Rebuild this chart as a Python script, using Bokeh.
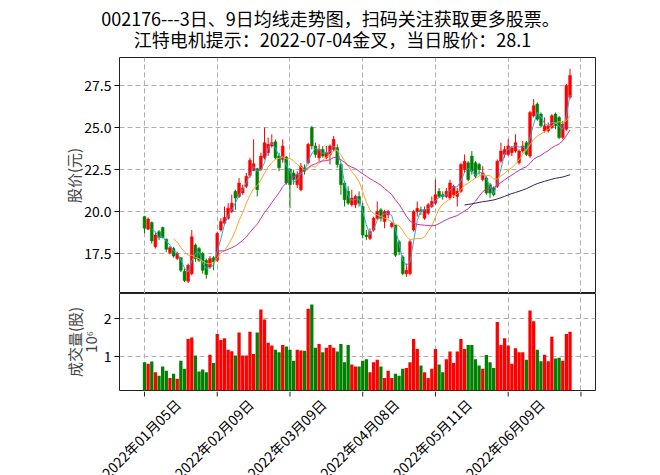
import numpy as np
import pandas as pd
from bokeh.plotting import figure
from bokeh.models import (ColumnDataSource, Range1d, FixedTicker, Title,
                          PrintfTickFormatter, CustomJSTickFormatter)
from bokeh.core.properties import value
from bokeh.layouts import column, row
from bokeh.embed import file_html
from bokeh.resources import INLINE

FONT = "Noto Sans CJK SC"

title_line1 = "002176---3日、9日均线走势图，扫码关注获取更多股票。"
title_line2 = "江特电机提示：2022-07-04金叉，当日股价：28.1"
price_label = "股价(元)"
volume_label = "成交量(股)"
volume_scale = "10⁶"

tick_pos = [0, 20, 40, 60, 80, 100, 120]
tick_labels = ["2022年01月05日", "2022年02月09日", "2022年03月09日",
               "2022年04月08日", "2022年05月11日", "2022年06月09日"]

opens = [19.7, 18.95, 19.35, 17.9, 18.8, 19.05, 18.35, 17.55, 17.8, 17.2,
         17.25, 16.45, 15.85, 16.3, 18.0, 17.8, 17.5, 17.1, 16.7, 17.25,
         17.1, 18.9, 19.3, 19.6, 20.0, 21.2, 20.9, 21.1, 21.5, 22.15,
         22.45, 22.55, 22.5, 23.2, 23.5, 23.9, 24.15, 23.3, 23.1, 23.25,
         22.5, 22.3, 21.6, 21.3, 22.6, 22.9, 25.0, 23.9, 23.2, 23.7,
         23.2, 23.4, 23.7, 23.8, 22.8, 21.7, 21.2, 20.4, 20.4, 20.9,
         20.3, 18.6, 18.4, 18.9, 19.6, 20.1, 19.4, 19.8, 19.1, 19.2,
         18.2, 17.3, 16.3, 16.3, 18.9, 20.0, 20.1, 19.6, 19.9, 20.3,
         20.5, 21.2, 21.0, 20.9, 20.8, 21.0, 20.9, 21.2, 22.5, 22.9,
         23.3, 22.9, 22.8, 21.9, 22.0, 21.6, 21.4, 21.5, 23.0, 23.4,
         23.4, 23.5, 23.6, 22.9, 23.6, 24.1, 23.3, 25.7, 26.4, 25.8,
         24.8, 24.8, 25.0, 25.8, 25.6, 24.4, 24.9, 26.8]
closes = [19.0, 19.55, 18.25, 18.6, 18.45, 18.45, 17.75, 17.85, 17.35, 17.5,
          16.5, 15.9, 16.8, 18.5, 17.2, 17.1, 16.5, 16.25, 17.2, 17.0,
          18.7, 19.4, 19.65, 20.2, 20.5, 20.8, 21.7, 21.4, 22.1, 23.05,
          22.85, 21.3, 23.3, 24.1, 24.0, 24.1, 23.2, 22.6, 23.9, 21.7,
          21.6, 21.9, 22.2, 22.7, 22.4, 24.0, 23.9, 23.4, 23.7, 23.3,
          23.5, 23.9, 24.3, 22.8, 21.6, 20.7, 20.5, 20.8, 20.9, 20.5,
          18.6, 18.5, 18.8, 19.6, 20.0, 19.6, 20.0, 20.0, 19.3, 17.4,
          17.6, 16.3, 16.5, 18.2, 20.0, 20.2, 20.0, 20.1, 20.4, 20.6,
          21.0, 20.9, 20.9, 21.2, 21.7, 21.5, 21.2, 22.8, 23.0, 21.9,
          22.4, 22.1, 22.5, 22.3, 21.1, 21.1, 21.0, 23.0, 23.6, 23.7,
          23.9, 23.8, 24.1, 23.6, 23.9, 23.4, 25.9, 26.3, 25.5, 25.1,
          25.1, 25.1, 25.7, 25.1, 24.4, 25.2, 27.5, 28.1]
highs = [19.75, 19.65, 19.4, 18.75, 18.9, 19.1, 18.4, 17.95, 17.9, 17.6,
         17.3, 16.6, 16.9, 18.9, 18.1, 17.9, 17.6, 17.2, 17.35, 17.35,
         18.8, 19.6, 20.3, 20.5, 21.0, 21.3, 22.0, 21.6, 22.3, 23.2,
         24.3, 22.6, 23.5, 25.0, 24.4, 24.6, 24.3, 23.5, 24.3, 23.3,
         22.6, 22.5, 22.4, 22.9, 22.8, 24.1, 25.1, 24.1, 24.0, 23.9,
         23.9, 24.0, 24.5, 24.0, 22.9, 21.8, 21.5, 21.3, 21.0, 21.2,
         20.5, 18.9, 19.0, 19.7, 20.6, 20.2, 20.1, 20.1, 19.4, 19.2,
         18.3, 17.4, 16.9, 18.3, 20.1, 20.6, 20.3, 20.3, 20.5, 20.9,
         21.9, 21.4, 21.2, 21.4, 21.9, 21.6, 21.4, 22.9, 23.4, 23.0,
         23.6, 23.0, 22.9, 22.7, 22.1, 21.7, 21.5, 23.1, 24.1, 23.9,
         24.3, 23.9, 24.6, 23.7, 24.2, 24.2, 26.0, 26.7, 26.5, 25.9,
         25.6, 25.3, 25.8, 25.9, 25.7, 25.4, 27.6, 28.5]
lows = [18.7, 18.9, 18.1, 17.8, 18.3, 18.4, 17.6, 17.45, 17.25, 17.1,
        16.4, 15.8, 15.75, 16.2, 17.0, 17.0, 16.3, 16.0, 16.6, 16.5,
        17.0, 18.8, 19.2, 19.5, 19.9, 20.1, 20.8, 21.0, 21.4, 22.0,
        22.4, 20.9, 22.4, 23.1, 23.3, 23.8, 23.1, 22.4, 22.9, 21.6,
        20.2, 21.6, 21.4, 21.2, 22.2, 22.8, 23.7, 23.2, 23.0, 23.2,
        23.1, 22.8, 23.6, 22.6, 21.0, 20.3, 20.4, 20.3, 20.2, 20.3,
        18.4, 18.3, 18.3, 18.8, 19.5, 19.4, 19.0, 19.6, 19.0, 17.3,
        17.4, 16.2, 16.1, 16.2, 18.8, 19.7, 19.8, 19.5, 19.8, 20.2,
        20.4, 20.8, 20.7, 20.8, 20.7, 20.8, 20.3, 21.1, 22.3, 21.8,
        22.2, 22.0, 22.2, 21.8, 21.0, 20.8, 20.9, 21.4, 22.9, 23.2,
        23.3, 23.3, 23.5, 22.8, 23.5, 23.3, 23.2, 25.6, 25.4, 25.0,
        24.7, 24.7, 24.9, 24.9, 24.3, 24.3, 24.8, 26.7]
volumes = [0.85, 0.81, 0.87, 0.59, 0.50, 0.74, 0.63, 0.44, 0.55, 0.42,
           0.89, 0.68, 1.46, 1.50, 1.03, 0.61, 0.66, 0.59, 1.05, 0.83,
           1.59, 1.43, 1.48, 1.18, 1.14, 1.03, 1.63, 1.03, 1.03, 1.65,
           1.07, 1.63, 2.23, 1.97, 1.36, 1.29, 1.18, 1.11, 1.30, 1.26,
           1.18, 0.89, 1.18, 1.16, 1.15, 2.25, 2.36, 1.23, 1.33, 1.11,
           1.23, 1.30, 1.23, 1.13, 1.33, 0.85, 1.30, 0.79, 0.74, 0.74,
           0.89, 0.93, 0.59, 0.85, 0.92, 0.74, 0.44, 0.63, 0.44, 0.55,
           0.50, 0.68, 0.70, 0.85, 1.46, 1.20, 0.77, 0.59, 0.44, 0.68,
           1.20, 0.79, 0.59, 0.93, 1.13, 0.83, 1.13, 1.46, 1.20, 1.30,
           1.30, 0.93, 0.77, 0.68, 1.04, 0.85, 0.70, 1.90, 1.30, 1.48,
           1.29, 0.81, 1.22, 1.11, 1.11, 0.92, 2.20, 1.92, 1.18, 0.88,
           1.05, 0.88, 1.52, 0.95, 0.97, 0.89, 1.59, 1.65]
volumes = [v * 1e6 for v in volumes]

ma_windows = [3, 9, 21, 89]
ma_colors = ["#2aa7e0", "#ffa230", "#c8309e", "#2e1f6e"]

RED = "#ff0000"
GREEN = "#008000"
GRID = "#b0b0b0"

W = 660
FL, FR = 119, 65          # frame borders left / right
H0, H1, H2 = 56, 237, 98
H3 = 475 - H0 - H1 - H2
n = len(closes)
idx = list(range(n))
colors = [RED if c >= o else GREEN for o, c in zip(opens, closes)]
src = ColumnDataSource(dict(
    x=idx, o=opens, c=closes, h=highs, l=lows, v=volumes, col=colors,
    top=[max(o, c) for o, c in zip(opens, closes)],
    bot=[min(o, c) for o, c in zip(opens, closes)],
))

X0, X1 = -6.87, 124.0
xr = Range1d(X0, X1)


def style_yaxis(ax, standoff):
    ax.axis_label_text_font = FONT
    ax.axis_label_text_font_size = "15px"
    ax.axis_label_text_font_style = "normal"
    ax.axis_label_standoff = standoff
    ax.major_label_text_font = FONT
    ax.major_label_text_font_size = "14px"
    ax.major_label_text_color = "black"
    ax.major_tick_out = 5
    ax.major_tick_in = 0
    ax.minor_tick_line_color = None
    ax.major_label_standoff = 3
    ax.axis_line_color = None


def strip(height, xrange):
    f = figure(width=W, height=height, x_range=xrange, y_range=Range1d(0, height),
               output_backend="svg", toolbar_location=None,
               min_border=0, min_border_left=0, min_border_right=0,
               min_border_top=0, min_border_bottom=0)
    f.axis.visible = False
    f.grid.visible = False
    f.outline_line_color = None
    f.background_fill_color = "white"
    f.border_fill_color = "white"
    return f


# ---------- title strip ----------
p0 = strip(H0, Range1d(0, W))
p0.text(x=[330, 332], y=[H0 - 17, H0 - 38], text=[title_line1, title_line2],
        text_align="center", text_baseline="middle", text_font=value(FONT),
        text_font_size="18px", text_color="black")

# ---------- price panel ----------
p1 = figure(width=W, height=H1, x_range=xr, y_range=Range1d(15.12, 29.17),
            output_backend="svg", toolbar_location=None,
            min_border_left=FL, min_border_right=FR, min_border_top=1,
            min_border_bottom=0)
p1.xaxis.visible = False
p1.yaxis.ticker = FixedTicker(ticks=[17.5, 20.0, 22.5, 25.0, 27.5])
p1.yaxis.formatter = PrintfTickFormatter(format="%.1f")
p1.yaxis.axis_label = price_label
style_yaxis(p1.yaxis[0], -3)

p1.segment(x0="x", x1="x", y0="l", y1="h", color="col", line_width=1, source=src)
p1.vbar(x="x", width=0.78, top="top", bottom="bot", fill_color="col",
        line_color="col", line_width=0.5, source=src)

s_close = pd.Series(closes)
for w, colr in zip(ma_windows, ma_colors):
    ma = s_close.rolling(w).mean()
    ok = ~ma.isna()
    p1.line(np.array(idx)[ok.values], ma[ok].values, line_color=colr, line_width=1)

# ---------- volume panel ----------
p2 = figure(width=W, height=H2, x_range=xr, y_range=Range1d(0.115e6, 2.645e6),
            output_backend="svg", toolbar_location=None,
            min_border_left=FL, min_border_right=FR, min_border_top=0,
            min_border_bottom=1)
p2.vbar(x="x", width=0.9, top="v", bottom=0, fill_color="col", line_color=None,
        source=src)
p2.xaxis.visible = False
p2.yaxis.ticker = FixedTicker(ticks=[1e6, 2e6])
p2.yaxis.formatter = CustomJSTickFormatter(code="return (tick/1e6).toFixed(0);")
style_yaxis(p2.yaxis[0], 0)
p2.add_layout(Title(text=volume_scale, align="center", offset=8, standoff=-1,
                    text_font=FONT, text_font_size="15px",
                    text_font_style="normal"), "left")
p2.add_layout(Title(text=volume_label, align="center", offset=-2, standoff=-13,
                    text_font=FONT, text_font_size="15px",
                    text_font_style="normal"), "left")

for p in (p1, p2):
    p.outline_line_color = "#222222"
    p.outline_line_width = 1
    p.background_fill_color = "white"
    p.border_fill_color = "white"
    for g in (p.xgrid[0], p.ygrid[0]):
        g.grid_line_color = GRID
        g.grid_line_dash = "5 3"
        g.grid_line_width = 1
    p.xgrid[0].ticker = FixedTicker(ticks=tick_pos)

# ---------- date-label strip (same x scale, full width) ----------
ppu = (W - FL - FR) / (X1 - X0)
p3 = strip(H3, Range1d(X0 - FL / ppu, X1 + FR / ppu))
p3.segment(x0=tick_pos, x1=tick_pos, y0=[H3] * len(tick_pos),
           y1=[H3 - 5] * len(tick_pos), line_color="#222222", line_width=1)
p3.text(x=[t + 9.2 for t in tick_pos[:6]], y=[H3 - 10] * 6, text=tick_labels,
        angle=np.pi / 4, text_align="right", text_baseline="middle",
        text_font=value(FONT), text_font_size="14px", text_color="black")

layout = column(row(p0), p1, p2, row(p3), spacing=0)
open("out.html", "w").write(file_html(layout, INLINE))
